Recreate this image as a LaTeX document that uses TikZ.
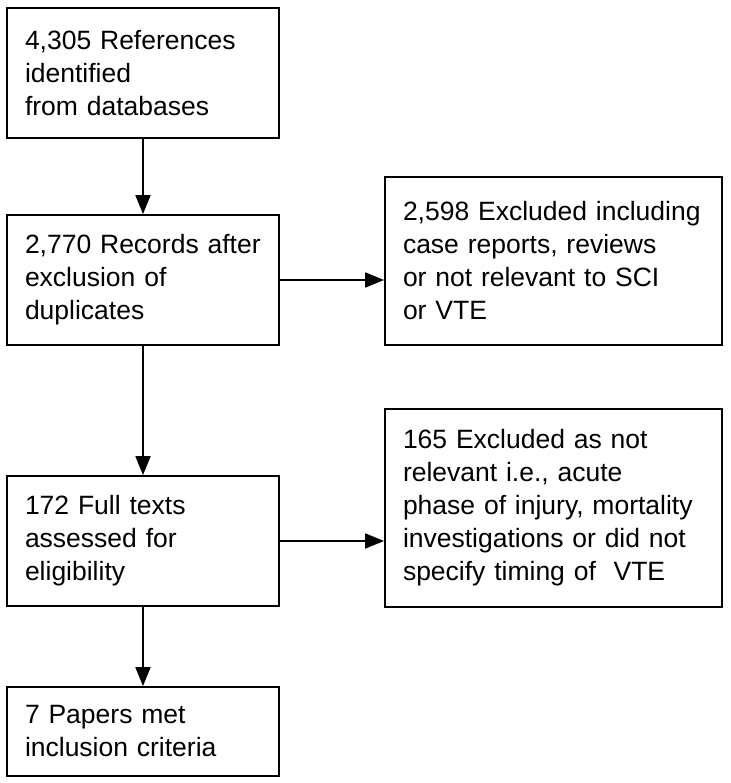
\documentclass[tikz,border=0pt]{standalone}
\usepackage{fontspec}
\setmainfont{Liberation Sans}
\usetikzlibrary{arrows.meta}

\begin{document}
\begin{tikzpicture}[x=1pt, y=-1pt,
    box/.style={draw, line width=1.8pt, rectangle, align=left,
        font=\fontsize{26.5}{33}\selectfont, inner ysep=0pt},
    leftbox/.style={box, inner xsep=18pt, text width=236pt, minimum width=272pt},
    rightbox/.style={box, inner xsep=18pt, text width=301pt, minimum width=337pt},
    flow/.style={line width=1.8pt, -{Triangle[length=19pt, width=15pt]}}]

    \useasboundingbox (0, 0) rectangle (730, 783);

    % Nodes
    \node[leftbox, minimum height=130pt] (refs) at (143, 73)
        {4,305 References\\identified\\from databases};
    \node[leftbox, minimum height=130pt] (records) at (143, 280)
        {2,770 Records after\\exclusion of\\duplicates};
    \node[rightbox, minimum height=168pt] (excl1) at (553.5, 261)
        {2,598 Excluded including\\case reports, reviews\\or not relevant to SCI\\or VTE};
    \node[leftbox, minimum height=130pt] (fulltext) at (143, 541)
        {172 Full texts\\assessed for\\eligibility};
    \node[rightbox, minimum height=198pt] (excl2) at (553.5, 508)
        {165 Excluded as not\\relevant i.e., acute\\phase of injury, mortality\\investigations or did not\\specify timing of~~VTE};
    \node[leftbox, minimum height=89pt] (papers) at (143, 731.5)
        {7 Papers met\\inclusion criteria};

    % Edges
    \draw[flow] (refs) -- (records);
    \draw[flow] (records) -- (records -| excl1.west);
    \draw[flow] (records) -- (fulltext);
    \draw[flow] (fulltext) -- (fulltext -| excl2.west);
    \draw[flow] (fulltext) -- (papers);

\end{tikzpicture}
\end{document}
